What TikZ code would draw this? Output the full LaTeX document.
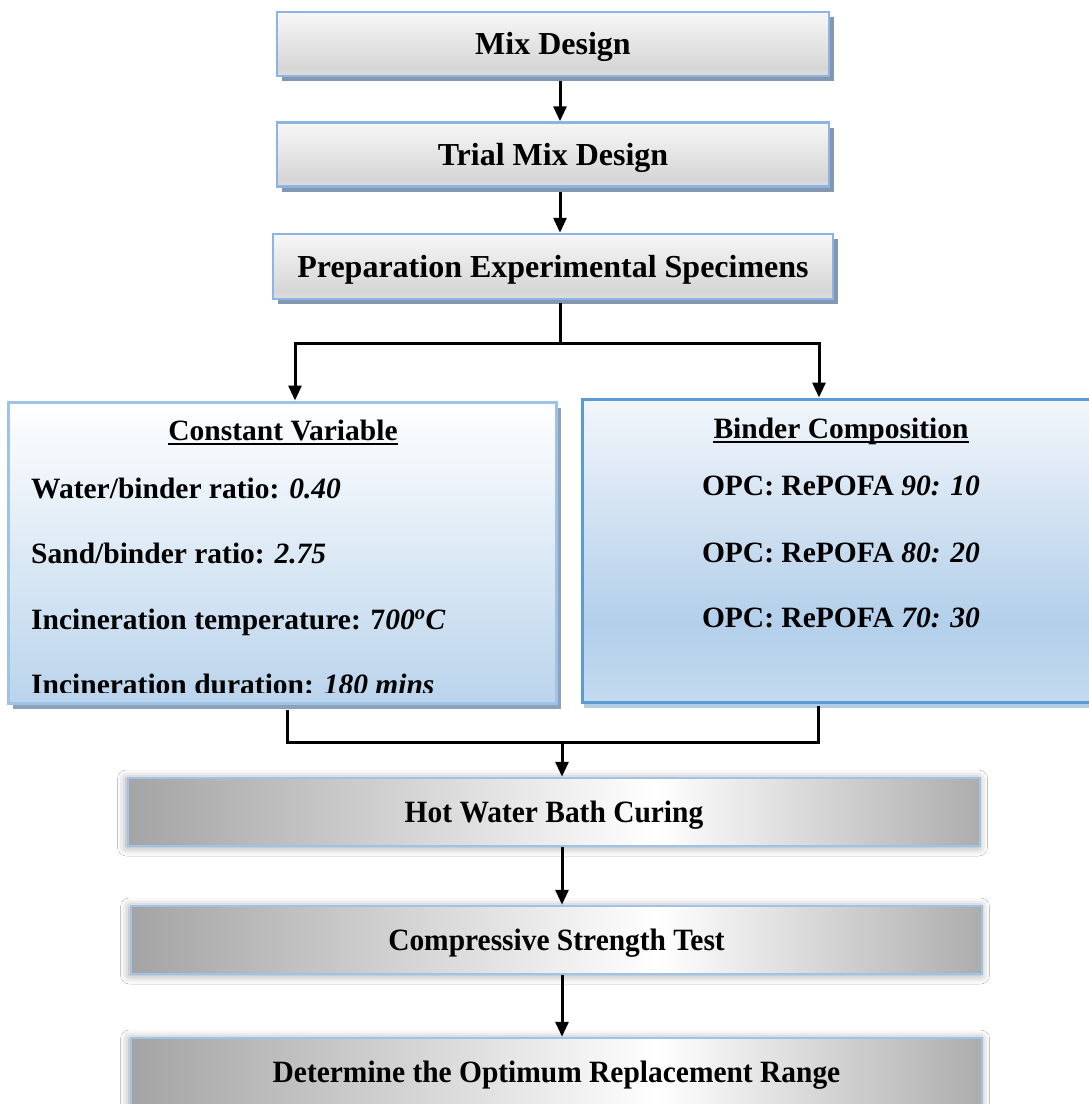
\documentclass[tikz,border=0pt]{standalone}
\usepackage{fontspec}
\usepackage{graphicx}
\setmainfont{Liberation Serif}
\usetikzlibrary{arrows.meta,shadows,shadows.blur}

\definecolor{topborder}{HTML}{8EB4E3}
\definecolor{topshadow}{HTML}{8497B0}
\definecolor{toptop}{HTML}{F7F7F7}
\definecolor{topmid}{HTML}{D6D6D6}
\definecolor{topbot}{HTML}{DEDEDE}
\definecolor{lbborder}{HTML}{9DC3E6}
\definecolor{lbshadow}{HTML}{8FA2BC}
\definecolor{lbbot}{HTML}{BAD4EC}
\definecolor{rbborder}{HTML}{5B9BD5}
\definecolor{rbshadow}{HTML}{B4CDE6}
\definecolor{rbtop}{HTML}{F2F6FB}
\definecolor{rbmid}{HTML}{B3CFEA}
\definecolor{rbbot}{HTML}{C3DAEE}
\definecolor{botborder}{HTML}{9DC3E6}
\definecolor{botgrey}{HTML}{A4A4A4}
\definecolor{botgreyr}{HTML}{ADADAD}

\pgfdeclareverticalshading{topgrad}{100bp}{color(0bp)=(topbot); color(25bp)=(topbot); color(31bp)=(topmid); color(75bp)=(toptop); color(100bp)=(toptop)}
\pgfdeclareverticalshading{rbgrad}{100bp}{color(0bp)=(rbbot); color(25bp)=(rbbot); color(38bp)=(rbmid); color(75bp)=(rbtop); color(100bp)=(rbtop)}
\pgfdeclarehorizontalshading{botgrad}{100bp}{color(0bp)=(botgrey); color(25bp)=(botgrey); color(56bp)=(white); color(75bp)=(botgreyr); color(100bp)=(botgreyr)}

\tikzset{
  arr/.style={line width=3pt, -{Triangle[width=13pt,length=15pt]}},
  conn/.style={line width=3pt},
  topbox/.style={draw=topborder, line width=2.5pt, shading=topgrad,
    minimum width=552pt, minimum height=64pt, inner sep=0pt,
    font=\fontsize{32}{38}\selectfont\bfseries, text height=21pt, text depth=0pt,
    drop shadow={fill=topshadow, opacity=1, shadow xshift=5pt, shadow yshift=-5pt}},
  botbox/.style={draw=botborder, line width=2.5pt, shading=botgrad,
    minimum width=851pt, minimum height=68pt, inner sep=0pt,
    font=\fontsize{31}{38}\selectfont\bfseries, text height=20pt, text depth=0pt,
    blur shadow={shadow xshift=-1.5pt, shadow yshift=-1pt, shadow blur radius=9pt, shadow opacity=40}},
  leftbox/.style={draw=lbborder, line width=3pt, top color=white, bottom color=lbbot,
    minimum width=548pt, minimum height=301pt, inner sep=0pt,
    drop shadow={fill=lbshadow, opacity=1, shadow xshift=5pt, shadow yshift=-6pt}},
  rightbox/.style={draw=rbborder, line width=3pt, shading=rbgrad,
    minimum width=518pt, minimum height=303pt, inner sep=0pt,
    drop shadow={fill=rbshadow, opacity=1, shadow xshift=2pt, shadow yshift=-6pt}},
  txt/.style={font=\fontsize{29.5}{36}\selectfont\bfseries, inner sep=0pt},
  uline/.style={line width=2.5pt}
}

\begin{document}
\begin{tikzpicture}[x=1pt,y=-1pt]
\useasboundingbox (0,0) rectangle (1089,1104);
\fill[white] (0,0) rectangle (1089,1104);
\clip (0,0) rectangle (1089,1104);

% top chain
\node[topbox] (mix) at (553,44) {Mix Design};
\node[topbox] (trial) at (553,154.5) {Trial Mix Design};
\node[topbox, minimum width=560pt, minimum height=65pt] (prep) at (553,266.5) {Preparation Experimental Specimens};

% middle boxes
\node[leftbox] (lb) at (282,552.5) {};
\node[rightbox] (rb) at (841,550.5) {};

% bottom chain
\node[botbox, minimum width=852pt] (hot) at (554,812) {\scalebox{0.95}[1]{Hot Water Bath Curing}};
\node[botbox] (comp) at (556.5,940) {\scalebox{0.95}[1]{Compressive Strength Test}};
\node[botbox] (det) at (556.5,1072) {\scalebox{0.95}[1]{Determine the Optimum Replacement Range}};

% left box text
\node[txt, anchor=base] (cvh) at (283,440) {Constant Variable};
\draw[uline] ([yshift=-4pt]cvh.base west) -- ([yshift=-4pt]cvh.base east);
\node[txt, anchor=base west] (wb) at (31,498) {Water/binder ratio: \textit{0.40}};
\node[txt, anchor=base west] (sb) at (31,563) {Sand/binder ratio: \textit{2.75}};
\node[txt, anchor=base west] (it) at (31,629) {Incineration temperature: 7\textit{00\textsuperscript{o}C}};
\begin{scope}
  \clip (0,402) rectangle (556,692);
  \node[txt, anchor=base west] (id) at (31,694) {Incineration duration: \textit{180 mins}};
\end{scope}

% right box text
\node[txt, anchor=base] (bch) at (841,438) {Binder Composition};
\draw[uline] ([yshift=-4pt]bch.base west) -- ([yshift=-4pt]bch.base east);
\node[txt, anchor=base] (o1) at (841,495) {OPC: RePOFA \textit{90: 10}};
\node[txt, anchor=base] (o2) at (841,562) {OPC: RePOFA \textit{80: 20}};
\node[txt, anchor=base] (o3) at (841,627) {OPC: RePOFA \textit{70: 30}};

% connectors top
\draw[arr] ([xshift=7pt,yshift=-4pt]mix.south) -- ([xshift=7pt]trial.north);
\draw[arr] ([xshift=7pt,yshift=-4pt]trial.south) -- ([xshift=7pt]prep.north);
\coordinate (split) at (560,343);
\coordinate (sl) at (295,343);
\coordinate (sr) at (819,343);
\draw[conn, line cap=rect] ([xshift=7pt,yshift=-4pt]prep.south) -- (split);
\draw[arr] (split) -| (sl |- lb.north);
\draw[arr] (split) -| (sr |- rb.north);

% connectors bottom
\coordinate (ml) at (287,742);
\coordinate (mr) at (818,742);
\coordinate (mm) at (562,742);
\draw[conn] ([yshift=-5pt]lb.south -| ml) -- (ml) -- (mr) -- ([yshift=-2pt]rb.south -| mr);
\draw[arr] (mm) -- (hot.north -| mm);
\draw[arr] (hot.south -| mm) -- (comp.north -| mm);
\draw[arr] (comp.south -| mm) -- (det.north -| mm);
\end{tikzpicture}
\end{document}
